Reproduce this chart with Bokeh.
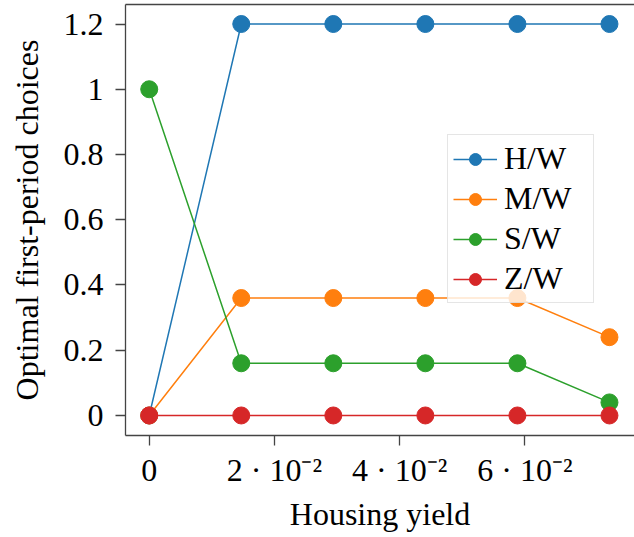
from bokeh.plotting import figure
from bokeh.models import FixedTicker, Range1d, LinearAxis, Legend, LegendItem
from bokeh.embed import file_html
from bokeh.resources import INLINE

# ---- data ----
housing_yield = [0.0, 0.0147, 0.0294, 0.0441, 0.0588, 0.0735]
h_w = [0.0, 1.2, 1.2, 1.2, 1.2, 1.2]
m_w = [0.0, 0.36, 0.36, 0.36, 0.36, 0.24]
s_w = [1.0, 0.16, 0.16, 0.16, 0.16, 0.04]
z_w = [0.0, 0.0, 0.0, 0.0, 0.0, 0.0]
series_names = ["H/W", "M/W", "S/W", "Z/W"]
colors = ["#1f77b4", "#ff7f0e", "#2ca02c", "#d62728"]
x_ticks = [0.0, 0.02, 0.04, 0.06]
x_tick_labels = ["0", "2 · 10⁻²", "4 · 10⁻²", "6 · 10⁻²"]
y_ticks = [0.0, 0.2, 0.4, 0.6, 0.8, 1.0, 1.2]
y_tick_labels = ["0", "0.2", "0.4", "0.6", "0.8", "1", "1.2"]

FONT = "Liberation Serif"
FS = "32px"
AX = "#444444"

p = figure(width=634, height=537, output_backend="svg", toolbar_location=None,
           x_range=Range1d(-0.00379, 0.0775), y_range=Range1d(-0.0614, 1.2598),
           min_border_left=125, min_border_bottom=102, min_border_top=4,
           min_border_right=0)
p.outline_line_color = None
p.grid.visible = False
p.background_fill_color = "white"
p.border_fill_color = "white"

for ax in (p.xaxis[0], p.yaxis[0]):
    ax.axis_line_color = AX
    ax.axis_line_width = 1.3
    ax.major_tick_line_color = AX
    ax.major_tick_line_width = 1.3
    ax.major_tick_out = 10
    ax.major_tick_in = 0
    ax.minor_tick_line_color = None
    ax.major_label_text_font = FONT
    ax.major_label_text_font_size = FS
    ax.major_label_text_color = "black"
    ax.axis_label_text_font = FONT
    ax.axis_label_text_font_size = FS
    ax.axis_label_text_font_style = "normal"
    ax.axis_label_text_color = "black"

p.xaxis[0].ticker = FixedTicker(ticks=x_ticks)
p.xaxis[0].major_label_overrides = {t: l for t, l in zip(x_ticks, x_tick_labels)}
p.yaxis[0].ticker = FixedTicker(ticks=y_ticks)
p.yaxis[0].major_label_overrides = {t: l for t, l in zip(y_ticks, y_tick_labels)}
p.xaxis[0].axis_label = "Housing yield"
p.yaxis[0].axis_label = "Optimal first-period choices"
p.xaxis[0].major_label_standoff = 6
p.yaxis[0].major_label_standoff = 12
p.xaxis[0].axis_label_standoff = 5
p.yaxis[0].axis_label_standoff = 16

top = LinearAxis(ticker=FixedTicker(ticks=[]), major_label_text_font_size="0px",
                 axis_line_color=AX, axis_line_width=1.3,
                 major_tick_line_color=None, minor_tick_line_color=None)
p.add_layout(top, "above")

items = []
for name, ys, c in zip(series_names, [h_w, m_w, s_w, z_w], colors):
    r1 = p.line(housing_yield, ys, line_color=c, line_width=1.5)
    r2 = p.scatter(housing_yield, ys, size=17, fill_color=c, line_color=c)
    items.append(LegendItem(label=name, renderers=[r1, r2]))

legend = Legend(items=items, location=(322, 132))
legend.label_text_font = FONT
legend.label_text_font_size = FS
legend.label_text_color = "black"
legend.glyph_width = 44
legend.glyph_height = 30
legend.label_height = 30
legend.label_width = 84
legend.label_standoff = 7
legend.spacing = 3
legend.padding = 5
legend.margin = 0
legend.border_line_color = "#cccccc"
legend.border_line_width = 1
legend.background_fill_color = "white"
legend.background_fill_alpha = 0.8
p.add_layout(legend, "center")

open("out.html", "w").write(file_html(p, INLINE))
